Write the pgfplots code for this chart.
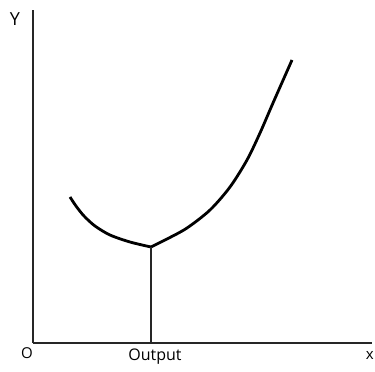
\documentclass[border=0pt]{standalone}
\usepackage{pgfplots}
\pgfplotsset{compat=1.18}
\usepackage{fontspec}
\setmainfont{Open Sans}
\begin{document}
\begin{tikzpicture}
\begin{axis}[
  x=1pt, y=1pt,
  xmin=33, xmax=372, ymin=29, ymax=362,
  axis x line=bottom, axis y line=left,
  axis line style={-, line width=1.5pt, black!85},
  xtick=\empty, ytick=\empty,
  clip=false,
]
% invisible bounding box in pixel coordinates (y flipped)
\path (axis cs:0,0) rectangle (axis cs:375,372);
% left branch
\addplot[line width=2.8pt, black, smooth] coordinates {
 (70,175) (76,166) (84,156) (95,146) (110,137) (130,130) (151,125)
};
% right branch
\addplot[line width=2.8pt, black, smooth] coordinates {
 (151,125) (167,133) (187,144) (210,162) (230,185) (247,212) (260,239) (273,269) (292,312)
};
% vertical drop line
\addplot[line width=1.6pt, black!85] coordinates {(151,125) (151,29)};
\node[font=\fontsize{18}{20}\selectfont] at (axis cs:15,353) {Y};
\node[font=\fontsize{15}{18}\selectfont] at (axis cs:27,19) {O};
\node[font=\fontsize{16}{19}\selectfont] at (axis cs:155,15) {Output};
\node[anchor=east, inner sep=1pt, font=\fontsize{15}{18}\selectfont] at (axis cs:375,17) {x};
\end{axis}
\end{tikzpicture}
\end{document}
